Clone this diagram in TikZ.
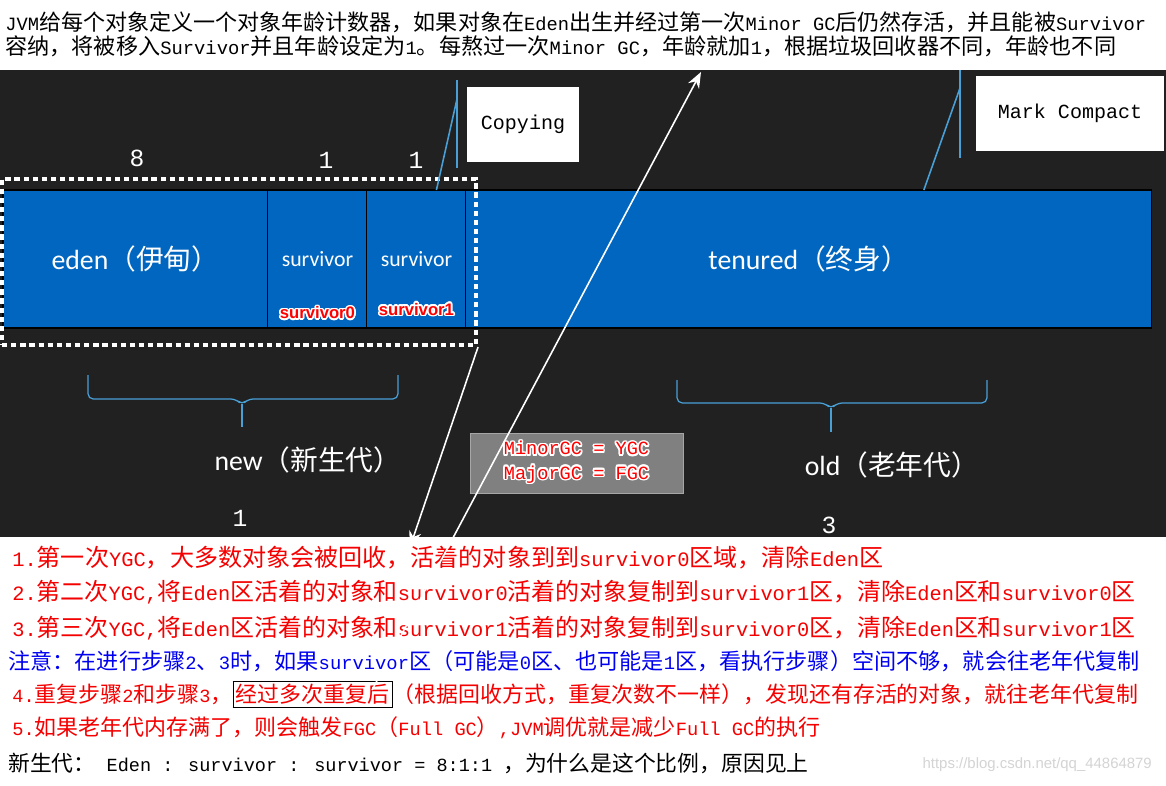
\documentclass[tikz,border=0pt]{standalone}
\usepackage{fontspec}
\usepackage{xcolor}
\usepackage{tikz}
\usepackage{contour}
\usetikzlibrary{arrows.meta, positioning, fit, calc}
\setmainfont{Noto Sans CJK SC}
\newfontfamily\monofont[Scale=0.85]{Liberation Mono}
\newfontfamily\codefont{Liberation Mono}
\newfontfamily\calfont{Carlito}
\newfontfamily\arialfont{Liberation Sans}
\newcommand{\latn}[1]{{\monofont #1}}
\definecolor{boardgray}{RGB}{33,33,33}
\definecolor{heapblue}{RGB}{0,102,192}
\definecolor{calloutblue}{RGB}{72,160,215}
\definecolor{rulegray}{RGB}{128,128,128}
\definecolor{notered}{RGB}{245,0,0}
\definecolor{noteblue}{RGB}{0,0,240}
\definecolor{markgray}{RGB}{212,212,212}
\contourlength{0.9pt}
\tikzset{
  heap/.style={rectangle, draw=black, line width=0.6pt, fill=heapblue,
    text=white, minimum height=2.76cm, inner sep=0pt, outer sep=0pt},
  survtag/.style={text=red, inner sep=0pt, font=\arialfont\bfseries\fontsize{9.5}{11}\selectfont},
  sizelabel/.style={text=white, font=\codefont\fontsize{14}{16}\selectfont},
  tagbox/.style={rectangle, fill=white, text=black, minimum height=1.5cm,
    font=\codefont\fontsize{11.4}{13}\selectfont},
  newbox/.style={rectangle, draw=white, line width=2.3pt,
    dash pattern=on 3pt off 2.2pt, inner sep=0pt},
  callout/.style={draw=calloutblue, line width=0.9pt},
  genbrace/.style={draw=calloutblue, line width=0.7pt, rounded corners=3pt},
  genlabel/.style={text=white, font=\fontsize{15.8}{18}\selectfont},
  whitearrow/.style={-{Stealth[length=9pt, width=7pt]}, draw=white, line width=0.9pt},
  ruleboard/.style={rectangle, fill=rulegray, draw=gray!70, align=left,
    minimum width=4.26cm, minimum height=1.2cm, text=red,
    font=\codefont\fontsize{10.6}{13.7}\selectfont},
  introtext/.style={anchor=west, inner sep=0pt, text=black},
  noteline/.style={anchor=west, inner sep=0pt},
}

\begin{document}
\begin{tikzpicture}[x=0.02cm, y=-0.02cm]
  \useasboundingbox (0,0) rectangle (1166,785);
  \fill[white] (0,0) rectangle (1166,785);
  \fill[boardgray] (0,70) rectangle (1166,537);

  % explanation on top
  \node[introtext, font=\fontsize{12.55}{14}\selectfont] (intro1) at (5,22)
    {\latn{JVM}给每个对象定义一个对象年龄计数器，如果对象在\latn{Eden}出生并经过第一次\latn{Minor GC}后仍然存活，并且能被\latn{Survivor}};
  \node[introtext, font=\fontsize{12.6}{14}\selectfont] (intro2) at (5,46)
    {容纳，将被移入\latn{Survivor}并且年龄设定为\latn{1}。每熬过一次\latn{Minor GC}，年龄就加\latn{1}，根据垃圾回收器不同，年龄也不同};

  % heap
  \node[heap, minimum width=5.3cm, anchor=north west, font=\fontsize{15.8}{18}\selectfont]
    (eden) at (3,190) {{\calfont eden}（伊甸）};
  \node[heap, minimum width=1.98cm, right=0pt of eden, font=\calfont\fontsize{12.4}{14}\selectfont]
    (s0) {survivor};
  \node[heap, minimum width=1.98cm, right=0pt of s0, font=\calfont\fontsize{12.4}{14}\selectfont]
    (s1) {survivor};
  \node[heap, minimum width=13.72cm, right=0pt of s1, font=\fontsize{15.8}{18}\selectfont]
    (tenured) {{\calfont tenured}（终身）};
  \node[survtag, above=4pt of s0.south] (s0tag) {\contour{white}{survivor0}};
  \node[survtag, above=6pt of s1.south] (s1tag) {\contour{white}{survivor1}};

  \node[sizelabel] (edensize) at (137,158) {8};
  \node[sizelabel] (s0size) at (326,160) {1};
  \node[sizelabel] (s1size) at (416,160) {1};

  \node[newbox, fit={(2,179) (476,345)}] (newgen) {};

  % algorithms
  \node[tagbox, minimum width=2.24cm] (copying) at (523,124.5) {Copying};
  \node[tagbox, minimum width=3.78cm] (markcompact) at (1070,113.5) {Mark Compact};
  \coordinate (copytop) at (457,80);
  \coordinate (copyend) at (457,168);
  \coordinate (copyknee) at (457,99);
  \coordinate (marktop) at (960,70);
  \coordinate (markend) at (960,158);
  \coordinate (markknee) at (960,88);
  \draw[callout] (copytop) -- (copyend);
  \draw[callout] (copyknee) -- ($(s1.north)+(20,0)$);
  \draw[callout] (marktop) -- (markend);
  \draw[callout] (markknee) -- ($(tenured.north)+(115,0)$);

  % generations
  \draw[genbrace] (88,375) |- (236,399) -- (242,405) -- (248,399) -| (398,375);
  \draw[genbrace] (242,404) -- (242,427);
  \draw[genbrace] (677,380) |- (825,403) -- (831,409) -- (837,403) -| (987,380);
  \draw[genbrace] (831,408) -- (831,432);
  \node[genlabel] (newlabel) at (308,460) {{\calfont new}（新生代）};
  \node[genlabel] (oldlabel) at (892,465) {{\calfont old}（老年代）};
  \node[sizelabel] (newsize) at (240,518) {1};
  \node[sizelabel] (oldsize) at (829,525) {3};

  \node[ruleboard] (rules) at (576.5,463)
    {\contour{white}{MinorGC = YGC}\\\contour{white}{MajorGC = FGC}};

  % steps
  \node[noteline, text=notered, font=\fontsize{13.7}{16}\selectfont] (step1) at (12,558)
    {\latn{1.}第一次\latn{YGC}，大多数对象会被回收，活着的对象到到\latn{survivor0}区域，清除\latn{Eden}区};
  \node[noteline, text=notered, font=\fontsize{13.63}{16}\selectfont] (step2) at (12,592)
    {\latn{2.}第二次\latn{YGC,}将\latn{Eden}区活着的对象和\latn{survivor0}活着的对象复制到\latn{survivor1}区，清除\latn{Eden}区和\latn{survivor0}区};
  \node[noteline, text=notered, font=\fontsize{13.63}{16}\selectfont] (step3) at (12,628)
    {\latn{3.}第三次\latn{YGC,}将\latn{Eden}区活着的对象和\latn{survivor1}活着的对象复制到\latn{survivor0}区，清除\latn{Eden}区和\latn{survivor1}区};
  \node[noteline, text=noteblue, font=\fontsize{12.6}{15}\selectfont] (note) at (8,661)
    {注意：在进行步骤\latn{2}、\latn{3}时，如果\latn{survivor}区（可能是\latn{0}区、也可能是\latn{1}区，看执行步骤）空间不够，就会往老年代复制};
  \node[noteline, text=notered, font=\fontsize{12.48}{15}\selectfont] (step4) at (12,694)
    {\latn{4.}重复步骤\latn{2}和步骤\latn{3}，{\color{black}\setlength{\fboxsep}{1.5pt}\fbox{\color{notered}经过多次重复后}}（根据回收方式，重复次数不一样），发现还有存活的对象，就往老年代复制};
  \node[noteline, text=notered, font=\fontsize{12.52}{15}\selectfont] (step5) at (12,728)
    {\latn{5.}如果老年代内存满了，则会触发\latn{FGC}（\latn{Full GC}）\latn{,JVM}调优就是减少\latn{Full GC}的执行};
  \node[noteline, text=black, font=\fontsize{12.41}{15}\selectfont] (ratio) at (8,763)
    {新生代：\latn{~Eden : survivor : survivor = 8:1:1~}，为什么是这个比例，原因见上};
  \node[anchor=east, text=markgray, font=\arialfont\fontsize{8.5}{10}\selectfont] (mark) at (1158,765)
    {https://blog.csdn.net/qq\_44864879};

  % arrows
  \coordinate (stepsarrow) at (410,547);
  \coordinate (backstart) at (372,690);
  \coordinate (backend) at (701,72);
  \draw[whitearrow] (newgen.south east) -- (stepsarrow);
  \draw[whitearrow] (backstart) -- (backend);
\end{tikzpicture}
\end{document}
